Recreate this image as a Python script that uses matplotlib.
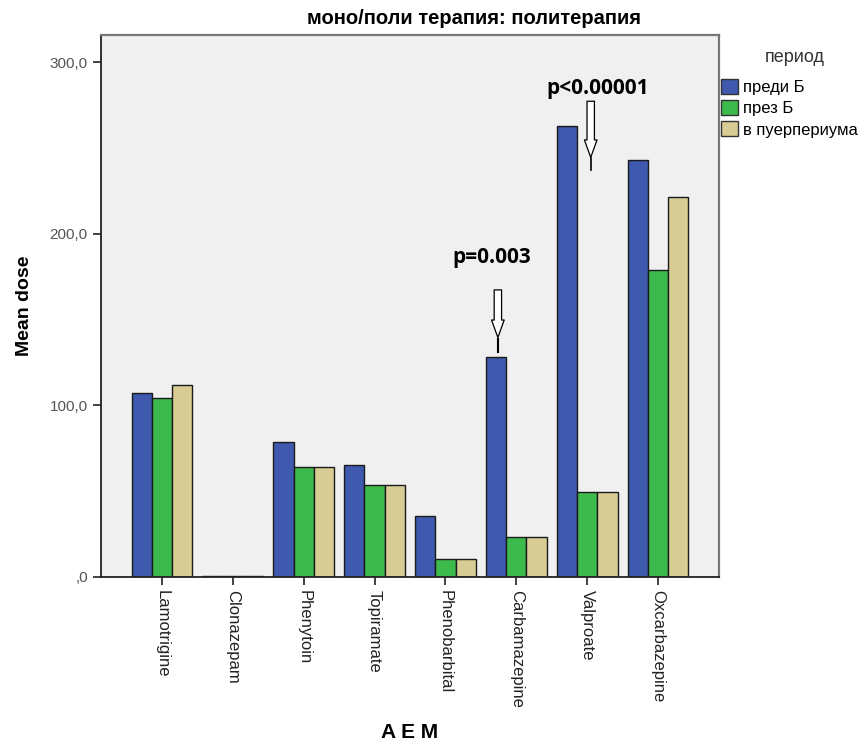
import numpy as np
import matplotlib.pyplot as plt
from matplotlib.patches import Patch

plt.rcParams['font.family'] = ['Liberation Sans', 'DejaVu Sans']

# data
drugs = ['Lamotrigine', 'Clonazepam', 'Phenytoin', 'Topiramate',
         'Phenobarbital', 'Carbamazepine', 'Valproate', 'Oxcarbazepine']
periods = ['преди Б', 'през Б', 'в пуерпериума']
before = [107.0, 0.5, 78.5, 65.3, 35.7, 128.3, 263.0, 243.2]
during = [104.5, 0.5, 63.9, 53.4, 10.7, 23.5, 49.7, 178.9]
after = [111.9, 0.5, 63.9, 53.4, 10.7, 23.5, 49.7, 221.6]
yticks = [0, 100, 200, 300]
ytick_labels = [',0', '100,0', '200,0', '300,0']

colors = ['#3e59ad', '#3dba4c', '#d6cc94']

fig = plt.figure(figsize=(8.66, 7.47), dpi=100)
ax = fig.add_axes([101/866, 1 - 577/747, 618/866, 542/747])
ax.set_facecolor('#f0f0f0')

x = np.arange(len(drugs))
w = 0.286
for i, (vals, c) in enumerate(zip([before, during, after], colors)):
    ax.bar(x + (i - 1) * w, vals, w, color=c, edgecolor='#1a1a1a', linewidth=1.0, zorder=2)

ax.set_xlim(-0.86, 7.86)
ax.set_ylim(0, 316)
ax.set_xticks(x)
ax.set_xticklabels(drugs, rotation=270, fontsize=12, color='#222222')
ax.set_yticks(yticks)
ax.set_yticklabels(ytick_labels, fontsize=11, color='#555555')
ax.tick_params(axis='both', direction='out', length=6, width=1.2, color='#222222')

for s in ['left', 'bottom']:
    ax.spines[s].set_linewidth(1.3)
    ax.spines[s].set_color('#222222')
for s in ['top', 'right']:
    ax.spines[s].set_linewidth(1.6)
    ax.spines[s].set_color('#777777')

ax.set_ylabel('Mean dose', fontsize=14, fontweight='bold', labelpad=12)
ax.set_xlabel('A E M', fontsize=15, fontweight='bold', va='center')
ax.xaxis.set_label_coords(0.5, (577 - 732) / 542)

fig.text(474/866, 1 - 19/747, 'моно/поли терапия: политерапия', ha='center', va='center',
         fontsize=14.5, fontweight='bold')

# significance markers
arrow = dict(arrowstyle='simple,head_width=0.65,head_length=0.9,tail_width=0.38',
             fc='white', ec='black', lw=0.9, mutation_scale=14)
ax.annotate('', xy=(4.74, 138), xytext=(4.74, 169), arrowprops=arrow)
ax.plot([4.74, 4.74], [131, 139], color='black', lw=1.5)
ax.text(4.65, 186.5, 'p=0.003', ha='center', va='center', fontsize=15, fontweight='bold',
        family=['Open Sans', 'DejaVu Sans'])
ax.annotate('', xy=(6.05, 243), xytext=(6.05, 279), arrowprops=arrow)
ax.plot([6.05, 6.05], [237, 244], color='black', lw=1.2)
ax.text(6.15, 285, 'p<0.00001', ha='center', va='center', fontsize=15, fontweight='bold',
        family=['Open Sans', 'DejaVu Sans'])

handles = [Patch(facecolor=c, edgecolor='#333333', linewidth=1.0) for c in colors]
fig.legend(handles, periods, loc='upper left', bbox_to_anchor=(721/866, 1 - 79/747),
           frameon=False, fontsize=12, borderpad=0, borderaxespad=0, handlelength=1.0,
           handleheight=1.0, handletextpad=0.3, labelspacing=0.3)
fig.text(795/866, 1 - 58/747, 'период', ha='center', va='center', fontsize=13, color='#333333')

fig.savefig('out.png', dpi=100)
